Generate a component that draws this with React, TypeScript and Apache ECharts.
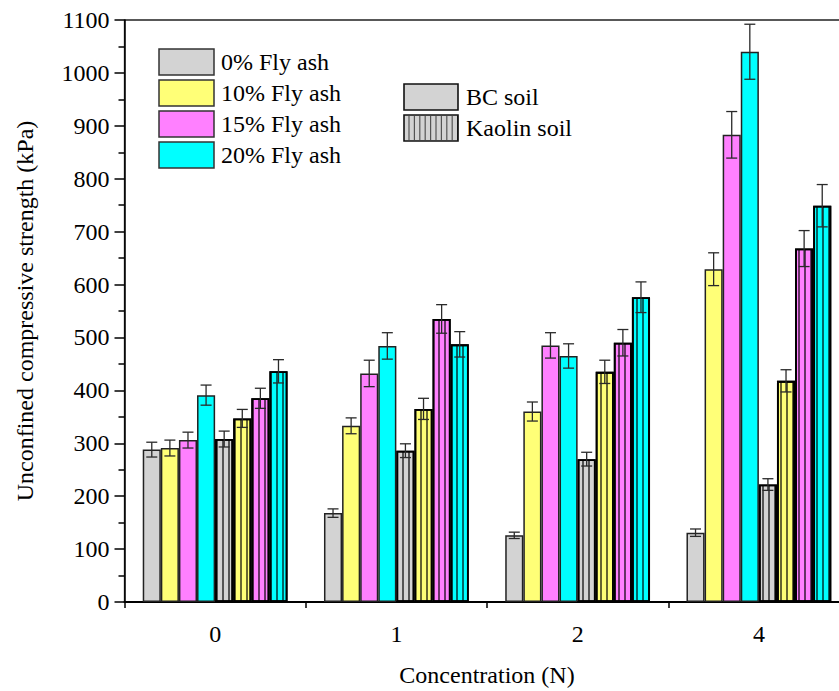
import React, { useEffect, useRef } from "react";
import * as echarts from "echarts";

// Concentration groups on the x axis
const categories = ["0", "1", "2", "4"];

// Unconfined compressive strength (kPa), BC soil
const bc0 = [288, 168, 126, 131];
const bc10 = [291, 333, 360, 629];
const bc15 = [306, 432, 485, 883];
const bc20 = [391, 484, 465, 1040];
// Kaolin soil
const ka0 = [308, 286, 270, 222];
const ka10 = [347, 365, 435, 418];
const ka15 = [385, 535, 490, 668];
const ka20 = [436, 487, 576, 749];

// Standard deviations (kPa)
const bc0Err = [14, 8, 6, 7];
const bc10Err = [15, 15, 18, 31];
const bc15Err = [15, 25, 24, 44];
const bc20Err = [19, 25, 23, 52];
const ka0Err = [15, 13, 13, 11];
const ka10Err = [17, 20, 22, 21];
const ka15Err = [19, 27, 25, 34];
const ka20Err = [22, 24, 29, 40];

const flyAshLabels = ["0% Fly ash", "10% Fly ash", "15% Fly ash", "20% Fly ash"];
const soilLabels = ["BC soil", "Kaolin soil"];
const fillColors = ["#D3D3D3", "#FFFF77", "#FF80FF", "#00FFFF"];

const FONT = "'Liberation Serif', 'DejaVu Serif', serif";
const FS = 24;
const BAR_W = 18.1;

export default function App() {
  const ref = useRef<HTMLDivElement>(null);

  useEffect(() => {
    document.body.style.margin = "0";
    const css = document.createElement("style");
    css.textContent = `.uc-chart svg text { font-family: ${FONT} !important; }`;
    document.head.appendChild(css);
    if (!ref.current) return;
    const chart = echarts.init(ref.current, undefined, { renderer: "svg" });

    const values = [bc0, bc10, bc15, bc20, ka0, ka10, ka15, ka20];
    const errors = [bc0Err, bc10Err, bc15Err, bc20Err, ka0Err, ka10Err, ka15Err, ka20Err];

    const hatch = {
      symbol: "rect",
      symbolSize: 1,
      dashArrayX: [1.2, 3.8],
      dashArrayY: [1, 0],
      color: "rgba(0,0,0,0.6)",
    };

    const barSeries = values.map((vals, k) => {
      const kaolin = k >= 4;
      return {
        type: "bar",
        name: (kaolin ? soilLabels[1] : soilLabels[0]) + " " + flyAshLabels[k % 4],
        data: vals,
        barWidth: BAR_W,
        barGap: "0%",
        itemStyle: {
          color: fillColors[k % 4],
          borderColor: kaolin ? "#000" : "#222",
          borderWidth: kaolin ? 1.8 : 1.5,
          decal: kaolin ? hatch : undefined,
        },
        emphasis: { disabled: true },
        z: 2,
      };
    });

    const errData: number[][] = [];
    values.forEach((vals, k) => {
      vals.forEach((v, i) => errData.push([i, v, errors[k][i], k]));
    });

    const errorSeries = {
      type: "custom",
      data: errData,
      z: 5,
      encode: { x: 0, y: 1 },
      renderItem: (params: any, api: any) => {
        const ci = api.value(0);
        const v = api.value(1);
        const e = api.value(2);
        const k = api.value(3);
        const offset = -4 * BAR_W + BAR_W * (k + 0.5);
        const top = api.coord([ci, v + e]);
        const bot = api.coord([ci, v - e]);
        const x = top[0] + offset;
        const half = 5.5;
        const style = { stroke: "#2a2a2a", lineWidth: 1.3 };
        return {
          type: "group",
          children: [
            { type: "line", shape: { x1: x, y1: top[1], x2: x, y2: bot[1] }, style },
            { type: "line", shape: { x1: x - half, y1: top[1], x2: x + half, y2: top[1] }, style },
            { type: "line", shape: { x1: x - half, y1: bot[1], x2: x + half, y2: bot[1] }, style },
          ],
        };
      },
    };

    // Legend drawn as graphic elements: fill colours and soil types
    const legendEls: any[] = [];
    const textStyle = (text: string) => ({
      text,
      fontSize: FS,
      fontFamily: FONT,
      fill: "#000",
      verticalAlign: "middle",
    });
    flyAshLabels.forEach((label, i) => {
      const y = 49 + i * 31;
      legendEls.push({
        type: "rect",
        shape: { x: 159, y, width: 55, height: 26 },
        style: { fill: fillColors[i], stroke: "#333", lineWidth: 1.5 },
      });
      legendEls.push({ type: "text", x: 221, y: y + 13, style: textStyle(label) });
    });
    soilLabels.forEach((label, i) => {
      const y = 84 + i * 31;
      legendEls.push({
        type: "rect",
        shape: { x: 404, y, width: 54, height: 26 },
        style: { fill: "#D3D3D3", stroke: "#111", lineWidth: 1.6 },
      });
      if (i === 1) {
        for (let lx = 409; lx < 458; lx += 5.4) {
          legendEls.push({
            type: "line",
            shape: { x1: lx, y1: y + 1, x2: lx, y2: y + 25 },
            style: { stroke: "rgba(0,0,0,0.6)", lineWidth: 1.2 },
          });
        }
      }
      legendEls.push({ type: "text", x: 466, y: y + 13, style: textStyle(label) });
    });

    chart.setOption({
      animation: false,
      textStyle: { fontFamily: FONT },
      grid: {
        left: 124.5,
        top: 20,
        width: 725,
        height: 582,
        outerBoundsMode: "none",
        containLabel: false,
        show: true,
        backgroundColor: "transparent",
        borderColor: "#222",
        borderWidth: 1.3,
      },
      xAxis: [
        {
          type: "category",
          data: categories,
          position: "bottom",
          name: "Concentration (N)",
          nameLocation: "middle",
          nameGap: 61,
          nameTextStyle: { fontSize: FS, color: "#000", fontFamily: FONT },
          axisLine: { lineStyle: { color: "#000", width: 2 } },
          axisTick: { alignWithLabel: true, length: 10, lineStyle: { color: "#000", width: 1.5 } },
          axisLabel: { fontSize: FS, color: "#000", margin: 20, fontFamily: FONT },
        },
        {
          type: "category",
          data: categories,
          position: "bottom",
          axisLine: { show: false },
          axisTick: { show: true, length: 6, lineStyle: { color: "#000", width: 1.5 } },
          axisLabel: { show: false },
        },
      ],
      yAxis: {
        type: "value",
        min: 0,
        max: 1100,
        interval: 100,
        name: "Unconfined compressive strength (kPa)",
        nameLocation: "middle",
        nameGap: 88,
        nameTextStyle: { fontSize: FS, color: "#000", fontFamily: FONT },
        axisLine: { show: true, lineStyle: { color: "#000", width: 1.5 } },
        axisTick: { show: true, length: 10, lineStyle: { color: "#000", width: 1.5 } },
        minorTick: { show: true, splitNumber: 2, length: 6, lineStyle: { color: "#000", width: 1.5 } },
        axisLabel: {
          fontSize: FS,
          color: "#000",
          margin: 15,
          fontFamily: FONT,
          formatter: (v: number) => String(v),
        },
        splitLine: { show: false },
      },
      series: [...barSeries, errorSeries],
      graphic: legendEls,
    });

    return () => {
      chart.dispose();
      css.remove();
    };
  }, []);

  return <div ref={ref} className="uc-chart" style={{ width: 839, height: 691 }} />;
}
